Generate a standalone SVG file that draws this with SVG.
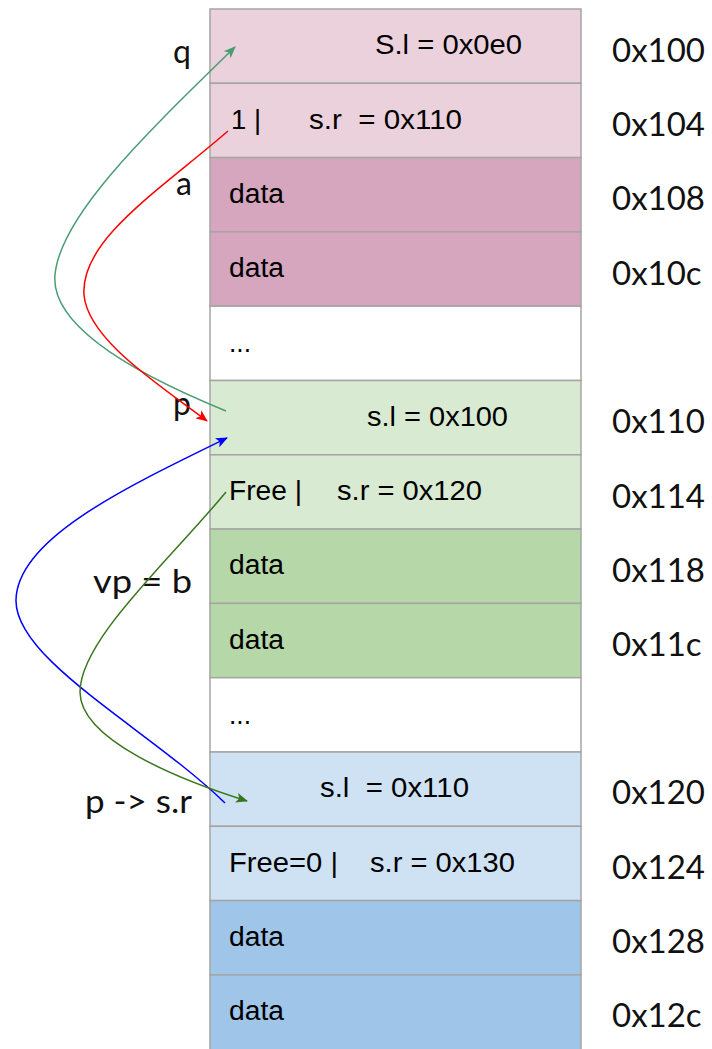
<svg xmlns="http://www.w3.org/2000/svg" width="712" height="1049" viewBox="0 0 712 1049">
  <style>
    .cell { stroke: #a5a5a5; stroke-width: 1.5; }
    .pink1 { fill: #ead1dc; }
    .pink2 { fill: #d5a6bd; }
    .blank { fill: #ffffff; }
    .green1 { fill: #d9ead3; }
    .green2 { fill: #b6d7a8; }
    .blue1 { fill: #cfe2f3; }
    .blue2 { fill: #9fc5e8; }
    .txt { font-family: "Liberation Sans", Arial, sans-serif; font-size: 27px; fill: #000; white-space: pre; }
    .addr { font-family: Lato, "Open Sans", sans-serif; font-size: 33px; fill: #111; }
    .lbl { font-family: Lato, "Open Sans", sans-serif; font-size: 32px; fill: #111; text-anchor: end; }
    .conn { fill: none; stroke-width: 1.5; }
  </style>
  <defs>
    <marker id="ah-teal" viewBox="0 0 12 10" refX="11" refY="5" markerWidth="12" markerHeight="10" markerUnits="userSpaceOnUse" orient="auto">
      <path d="M0,0 L12,5 L0,10 L3,5 Z" fill="#4a9d73"/>
    </marker>
    <marker id="ah-red" viewBox="0 0 12 10" refX="11" refY="5" markerWidth="12" markerHeight="10" markerUnits="userSpaceOnUse" orient="auto">
      <path d="M0,0 L12,5 L0,10 L3,5 Z" fill="#ff0000"/>
    </marker>
    <marker id="ah-blue" viewBox="0 0 12 10" refX="11" refY="5" markerWidth="12" markerHeight="10" markerUnits="userSpaceOnUse" orient="auto">
      <path d="M0,0 L12,5 L0,10 L3,5 Z" fill="#0000ff"/>
    </marker>
    <marker id="ah-dkgreen" viewBox="0 0 12 10" refX="11" refY="5" markerWidth="12" markerHeight="10" markerUnits="userSpaceOnUse" orient="auto">
      <path d="M0,0 L12,5 L0,10 L3,5 Z" fill="#38761d"/>
    </marker>
  </defs>

  <rect width="712" height="1049" fill="#ffffff"/>

  <!-- memory words, 4 bytes each -->
  <g id="w100"><rect class="cell pink1" x="210" y="9" width="371" height="74.3"/><text class="txt" x="375" y="54" textLength="147" lengthAdjust="spacingAndGlyphs">S.l = 0x0e0</text></g>
  <g id="w104"><rect class="cell pink1" x="210" y="83.3" width="371" height="74.3"/><text class="txt" x="231" y="129" textLength="30" lengthAdjust="spacingAndGlyphs">1 |</text><text class="txt" x="309" y="129" textLength="153" lengthAdjust="spacingAndGlyphs">s.r  = 0x110</text></g>
  <g id="w108"><rect class="cell pink2" x="210" y="157.6" width="371" height="74.3"/><text class="txt" x="229" y="203" textLength="55" lengthAdjust="spacingAndGlyphs">data</text></g>
  <g id="w10c"><rect class="cell pink2" x="210" y="231.9" width="371" height="74.3"/><text class="txt" x="229" y="277" textLength="55" lengthAdjust="spacingAndGlyphs">data</text></g>
  <g id="gap1"><rect class="cell blank" x="210" y="306.2" width="371" height="74.3"/><text class="txt" x="229" y="352" textLength="22" lengthAdjust="spacingAndGlyphs">...</text></g>
  <g id="w110"><rect class="cell green1" x="210" y="380.5" width="371" height="74.3"/><text class="txt" x="367" y="426" textLength="141" lengthAdjust="spacingAndGlyphs">s.l = 0x100</text></g>
  <g id="w114"><rect class="cell green1" x="210" y="454.8" width="371" height="74.3"/><text class="txt" x="229" y="500" textLength="73" lengthAdjust="spacingAndGlyphs">Free |</text><text class="txt" x="337" y="500" textLength="145" lengthAdjust="spacingAndGlyphs">s.r = 0x120</text></g>
  <g id="w118"><rect class="cell green2" x="210" y="529.1" width="371" height="74.3"/><text class="txt" x="229" y="574" textLength="55" lengthAdjust="spacingAndGlyphs">data</text></g>
  <g id="w11c"><rect class="cell green2" x="210" y="603.4" width="371" height="74.3"/><text class="txt" x="229" y="649" textLength="55" lengthAdjust="spacingAndGlyphs">data</text></g>
  <g id="gap2"><rect class="cell blank" x="210" y="677.7" width="371" height="74.3"/><text class="txt" x="229" y="724" textLength="22" lengthAdjust="spacingAndGlyphs">...</text></g>
  <g id="w120"><rect class="cell blue1" x="210" y="752" width="371" height="74.3"/><text class="txt" x="320" y="797" textLength="149" lengthAdjust="spacingAndGlyphs">s.l  = 0x110</text></g>
  <g id="w124"><rect class="cell blue1" x="210" y="826.3" width="371" height="74.3"/><text class="txt" x="229" y="872" textLength="109" lengthAdjust="spacingAndGlyphs">Free=0 |</text><text class="txt" x="370" y="872" textLength="145" lengthAdjust="spacingAndGlyphs">s.r = 0x130</text></g>
  <g id="w128"><rect class="cell blue2" x="210" y="900.6" width="371" height="74.3"/><text class="txt" x="229" y="946" textLength="55" lengthAdjust="spacingAndGlyphs">data</text></g>
  <g id="w12c"><rect class="cell blue2" x="210" y="974.9" width="371" height="78"/><text class="txt" x="229" y="1020" textLength="55" lengthAdjust="spacingAndGlyphs">data</text></g>

  <!-- addresses -->
  <g id="addresses">
    <text class="addr" x="612" y="62">0x100</text>
    <text class="addr" x="612" y="136">0x104</text>
    <text class="addr" x="612" y="210">0x108</text>
    <text class="addr" x="612" y="285">0x10c</text>
    <text class="addr" x="612" y="433">0x110</text>
    <text class="addr" x="612" y="508">0x114</text>
    <text class="addr" x="612" y="582">0x118</text>
    <text class="addr" x="612" y="656">0x11c</text>
    <text class="addr" x="612" y="804">0x120</text>
    <text class="addr" x="612" y="879">0x124</text>
    <text class="addr" x="612" y="953">0x128</text>
    <text class="addr" x="612" y="1027">0x12c</text>
  </g>

  <!-- pointer names -->
  <g id="labels">
    <text class="lbl" x="191" y="63">q</text>
    <text class="lbl" x="192" y="195">a</text>
    <text class="lbl" x="191" y="415">p</text>
    <text class="lbl" x="192" y="593" textLength="99" lengthAdjust="spacingAndGlyphs">vp = b</text>
    <text class="lbl" x="192" y="813" textLength="107" lengthAdjust="spacingAndGlyphs">p -&gt; s.r</text>
  </g>

  <!-- links between free-list blocks -->
  <g id="connectors">
    <path class="conn" stroke="#4a9d73" d="M226,411 C150,380 50,330 55,275 C60,215 150,130 235,47" marker-end="url(#ah-teal)"/>
    <path class="conn" stroke="#ff0000" d="M228,131 C160,190 80,240 84,295 C88,340 160,385 207,421" marker-end="url(#ah-red)"/>
    <path class="conn" stroke="#0000ff" d="M225,803 C150,730 15,660 16,600 C17,540 120,490 227,438" marker-end="url(#ah-blue)"/>
    <path class="conn" stroke="#38761d" d="M226,492 C170,560 80,640 80,692 C80,740 180,780 247,801" marker-end="url(#ah-dkgreen)"/>
  </g>
</svg>
